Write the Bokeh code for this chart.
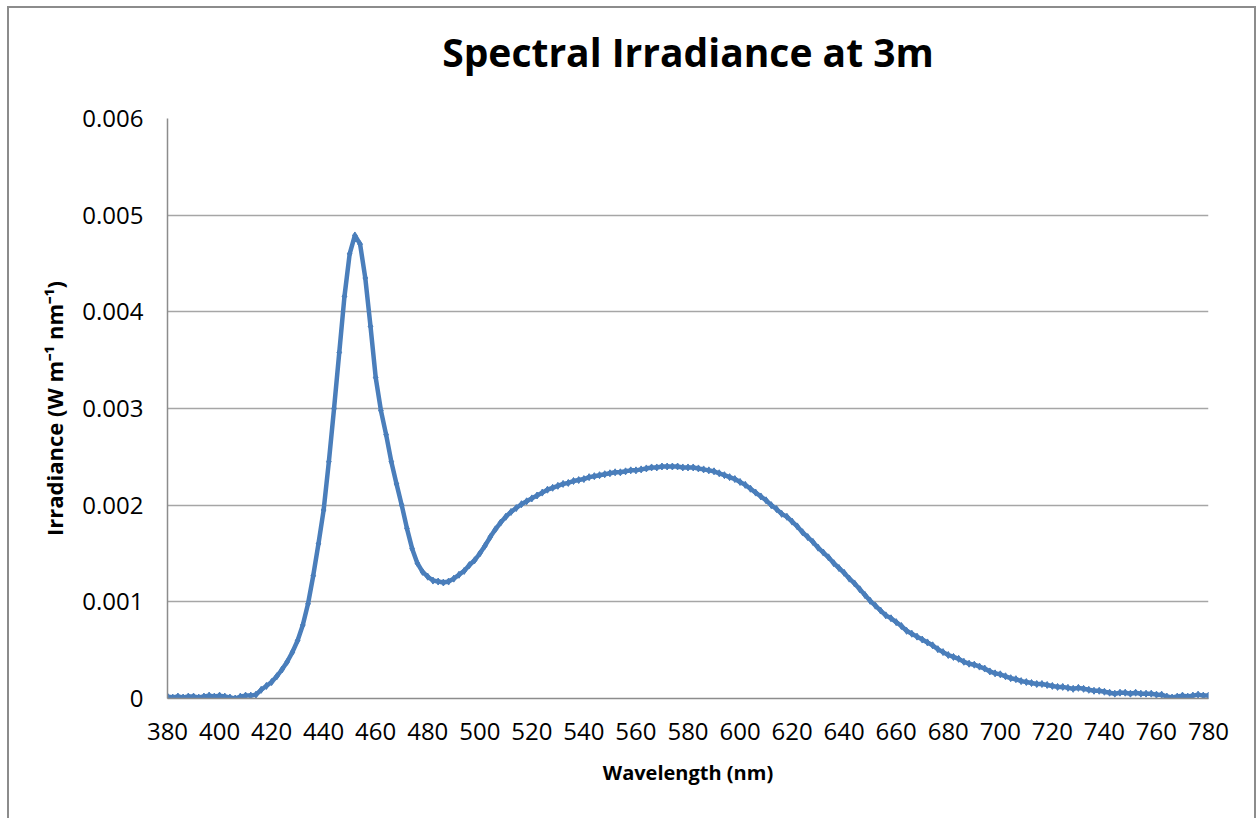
from bokeh.plotting import figure
from bokeh.models import Range1d, FixedTicker, Title
from bokeh.embed import file_html
from bokeh.resources import INLINE

# Wavelength grid (nm) and irradiance values
wavelength = list(range(380, 781, 2))
irradiance = [
    0.00002, 0.00001, 0.00002, 0.00001, 0.00002, 0.00002, 0.00001, 0.00002, 0.00003, 0.00002,  # 380-398
    0.00003, 0.00002, 0.00001, 0.00000, 0.00002, 0.00003, 0.00003, 0.00004, 0.00009, 0.00013,  # 400-418
    0.00017, 0.00023, 0.00030, 0.00038, 0.00048, 0.00060, 0.00076, 0.00098, 0.00127, 0.00160,  # 420-438
    0.00195, 0.00245, 0.00300, 0.00358, 0.00416, 0.00460, 0.00479, 0.00470, 0.00435, 0.00385,  # 440-458
    0.00332, 0.00298, 0.00273, 0.00245, 0.00222, 0.00200, 0.00176, 0.00155, 0.00140, 0.00131,  # 460-478
    0.00126, 0.00122, 0.00121, 0.00120, 0.00121, 0.00124, 0.00128, 0.00132, 0.00138, 0.00143,  # 480-498
    0.00150, 0.00158, 0.00167, 0.00175, 0.00182, 0.00188, 0.00193, 0.00197, 0.00201, 0.00204,  # 500-518
    0.00207, 0.00210, 0.00213, 0.00216, 0.00218, 0.00220, 0.00222, 0.00223, 0.00225, 0.00226,  # 520-538
    0.00227, 0.00229, 0.00230, 0.00231, 0.00232, 0.00233, 0.00234, 0.00234, 0.00235, 0.00236,  # 540-558
    0.00236, 0.00237, 0.00238, 0.00239, 0.00239, 0.00240, 0.00240, 0.00240, 0.00240, 0.00239,  # 560-578
    0.00239, 0.00239, 0.00238, 0.00237, 0.00236, 0.00235, 0.00233, 0.00231, 0.00229, 0.00227,  # 580-598
    0.00224, 0.00221, 0.00217, 0.00213, 0.00209, 0.00205, 0.00200, 0.00196, 0.00191, 0.00188,  # 600-618
    0.00183, 0.00178, 0.00172, 0.00167, 0.00162, 0.00156, 0.00151, 0.00146, 0.00140, 0.00135,  # 620-638
    0.00130, 0.00124, 0.00119, 0.00113, 0.00107, 0.00101, 0.00096, 0.00091, 0.00086, 0.00083,  # 640-658
    0.00079, 0.00075, 0.00070, 0.00067, 0.00064, 0.00061, 0.00058, 0.00055, 0.00051, 0.00048,  # 660-678
    0.00045, 0.00043, 0.00041, 0.00038, 0.00036, 0.00035, 0.00033, 0.00031, 0.00028, 0.00026,  # 680-698
    0.00025, 0.00023, 0.00021, 0.00020, 0.00018, 0.00017, 0.00016, 0.00015, 0.00015, 0.00014,  # 700-718
    0.00013, 0.00012, 0.00012, 0.00011, 0.00010, 0.00011, 0.00010, 0.00009, 0.00008, 0.00008,  # 720-738
    0.00007, 0.00006, 0.00005, 0.00006, 0.00006, 0.00005, 0.00006, 0.00005, 0.00005, 0.00005,  # 740-758
    0.00004, 0.00004, 0.00002, 0.00001, 0.00002, 0.00003, 0.00002, 0.00003, 0.00004, 0.00003,  # 760-778
    0.00003,                                                                                   # 780
]
assert len(wavelength) == len(irradiance)

x_ticks = list(range(380, 781, 20))
y_ticks = [0, 0.001, 0.002, 0.003, 0.004, 0.005, 0.006]
y_tick_labels = ["0", "0.001", "0.002", "0.003", "0.004", "0.005", "0.006"]

title_text = "Spectral Irradiance at 3m"
x_label = "Wavelength (nm)"
y_label = "Irradiance (W m\u207b\u00b9 nm\u207b\u00b9)"

FONT = "Open Sans"
SERIES = "#4A7EBB"

p = figure(width=1249, height=812, output_backend="svg", toolbar_location=None,
           x_range=Range1d(380, 780), y_range=Range1d(0, 0.006),
           min_border_left=158, min_border_right=50, min_border_top=110, min_border_bottom=122,
           title=None)
p.styles = {"border-left": "2px solid #8c8c8c", "border-top": "2px solid #8c8c8c",
            "border-right": "2px solid #8c8c8c", "box-sizing": "border-box",
            "margin-left": "7px", "margin-top": "6px"}

# spacer between plot frame and title (nearest to the frame), then the title itself
spacer = Title(text=" ", text_font_size="2px", standoff=37)
p.add_layout(spacer, "above")
main_title = Title(text=title_text, text_font=FONT, text_font_size="39px",
                   text_font_style="bold", align="center", text_color="#000000", standoff=0)
p.add_layout(main_title, "above")

p.outline_line_color = None
p.background_fill_color = "white"
p.border_fill_color = "white"

p.line(wavelength, irradiance, line_color=SERIES, line_width=4.5)
p.scatter(wavelength, irradiance, marker="diamond", size=7, fill_color=SERIES, line_color=SERIES)

p.xgrid.visible = False
p.ygrid.ticker = FixedTicker(ticks=y_ticks)
p.ygrid.grid_line_color = "#a6a6a6"
p.ygrid.grid_line_width = 1.3

p.xaxis.ticker = FixedTicker(ticks=x_ticks)
p.yaxis.ticker = FixedTicker(ticks=y_ticks)
p.yaxis.major_label_overrides = {t: l for t, l in zip(y_ticks, y_tick_labels)}

for ax in (p.xaxis, p.yaxis):
    ax.axis_line_color = "#8c8c8c"
    ax.axis_line_width = 1.5
    ax.major_tick_line_color = None
    ax.minor_tick_line_color = None
    ax.major_tick_out = 0
    ax.major_tick_in = 0
    ax.major_label_text_font = FONT
    ax.major_label_text_font_size = "24px"
    ax.major_label_text_color = "#000000"
    ax.axis_label_text_font = FONT
    ax.axis_label_text_font_style = "bold"
    ax.axis_label_text_color = "#000000"

p.xaxis.axis_label = x_label
p.yaxis.axis_label = y_label
p.xaxis.axis_label_text_font_size = "20px"
p.yaxis.axis_label_text_font_size = "22px"
p.xaxis.major_label_standoff = 24
p.yaxis.major_label_standoff = 24
p.xaxis.axis_label_standoff = 16
p.yaxis.axis_label_standoff = 10

open("out.html", "w").write(file_html(p, INLINE))
